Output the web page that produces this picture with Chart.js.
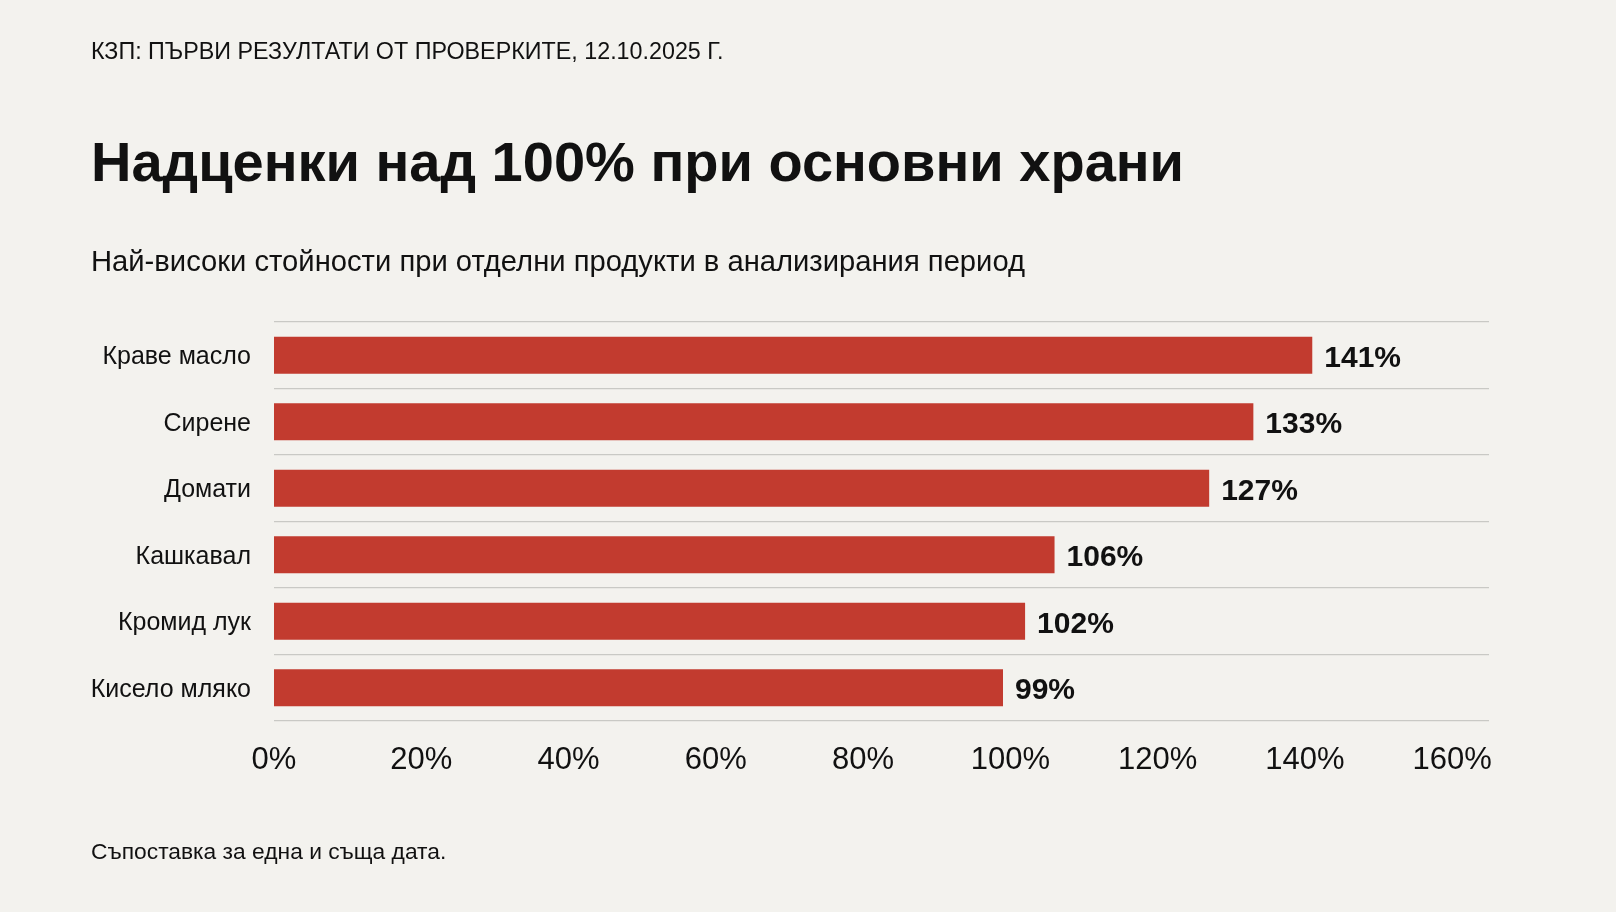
<!DOCTYPE html>
<html lang="bg">
<head>
<meta charset="utf-8">
<title>Надценки над 100% при основни храни</title>
<script src="https://cdn.jsdelivr.net/npm/chart.js@4.4.1/dist/chart.umd.min.js"></script>
<style>
  html, body {
    margin: 0;
    padding: 0;
    width: 1616px;
    height: 912px;
    overflow: hidden;
    background: #f3f2ee;
    font-family: 'Liberation Sans', Arial, sans-serif;
    color: #111;
  }
  .chart-wrap {
    position: absolute;
    left: 0;
    top: 0;
    width: 1616px;
    height: 912px;
  }
  .txt {
    position: absolute;
    left: 91px;
    line-height: 1;
    white-space: nowrap;
    z-index: 2;
  }
  #kicker { top: 40px; font-size: 23.3px; }
  #title { top: 134px; font-size: 56px; font-weight: bold; }
  #subtitle { top: 247px; font-size: 29.2px; }
  #note { top: 840px; font-size: 22.8px; }
</style>
</head>
<body>
<div class="txt" id="kicker">КЗП: ПЪРВИ РЕЗУЛТАТИ ОТ ПРОВЕРКИТЕ, 12.10.2025 Г.</div>
<div class="txt" id="title">Надценки над 100% при основни храни</div>
<div class="txt" id="subtitle">Най-високи стойности при отделни продукти в анализирания период</div>
<div class="txt" id="note">Съпоставка за една и съща дата.</div>

<div class="chart-wrap">
  <canvas id="markupChart"></canvas>
</div>

<script>
// products and their markup, %
const products = ['Краве масло', 'Сирене', 'Домати', 'Кашкавал', 'Кромид лук', 'Кисело мляко'];
const markups = [141, 133, 127, 106, 102, 99];
const xTicks = [0, 20, 40, 60, 80, 100, 120, 140, 160];

const BAR_RED = '#c23b2f';
const TEXT = '#111111';

// prints the value just past the end of every bar
const valueLabels = {
  id: 'valueLabels',
  afterDatasetsDraw(chart) {
    const ctx = chart.ctx;
    const meta = chart.getDatasetMeta(0);
    ctx.save();
    ctx.font = 'bold 30px "Liberation Sans", Arial, sans-serif';
    ctx.fillStyle = TEXT;
    ctx.textAlign = 'left';
    ctx.textBaseline = 'middle';
    meta.data.forEach((bar, i) => {
      ctx.fillText(markups[i] + '%', bar.x + 12, bar.y + 3);
    });
    ctx.restore();
  }
};

new Chart(document.getElementById('markupChart'), {
  type: 'bar',
  data: {
    labels: products,
    datasets: [{
      data: markups,
      backgroundColor: BAR_RED,
      borderWidth: 0,
      categoryPercentage: 1,
      barPercentage: 0.56
    }]
  },
  options: {
    indexAxis: 'y',
    responsive: true,
    maintainAspectRatio: false,
    animation: false,
    layout: {
      padding: { top: 322, right: 127, bottom: 131, left: 0 }
    },
    scales: {
      x: {
        min: 0,
        max: 165,
        afterBuildTicks: (scale) => {
          scale.ticks = xTicks.map(v => ({ value: v }));
        },
        afterFit: (scale) => {
          scale.height = 60;
        },
        grid: { display: false, drawTicks: false },
        border: { display: false },
        ticks: {
          padding: 21,
          color: TEXT,
          font: { size: 31, family: '"Liberation Sans", Arial, sans-serif' },
          callback: (value) => value + '%'
        }
      },
      y: {
        afterFit: (scale) => {
          scale.width = 274;
        },
        grid: {
          offset: true,
          drawTicks: false,
          color: '#c9c9c5',
          lineWidth: 1.3
        },
        border: { display: false },
        ticks: {
          padding: 23,
          color: TEXT,
          font: { size: 25, family: '"Liberation Sans", Arial, sans-serif' },
          labelOffset: 0
        },
        afterTickToLabelConversion: (scale) => {
          // nudge labels slightly down to sit level with the bar centres
          scale.options.ticks.labelOffset = 2;
        }
      }
    },
    plugins: {
      legend: { display: false },
      tooltip: { enabled: false }
    }
  },
  plugins: [valueLabels]
});
</script>
</body>
</html>
